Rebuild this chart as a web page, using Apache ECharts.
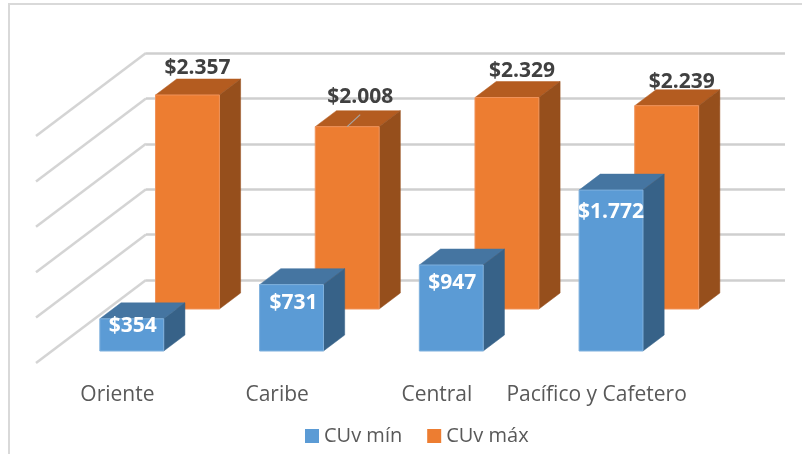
<!DOCTYPE html>
<html>
<head>
<meta charset="utf-8">
<style>
    html, body { margin: 0; padding: 0; background: #fff; }
    #main { width: 802px; height: 454px; }
</style>
<script src="https://cdn.jsdelivr.net/npm/echarts@6/dist/echarts.min.js"></script>
</head>
<body>
<div id="main"></div>
<script>
var categories = ['Oriente', 'Caribe', 'Central', 'Pacífico y Cafetero'];
var cuvMin = [354, 731, 947, 1772];
var cuvMax = [2357, 2008, 2329, 2239];
var gridTicks = [0, 500, 1000, 1500, 2000, 2500];

// desplazamiento de cada etiqueta respecto a la cara frontal de la barra
var minLabelOffsets = [[1, 7], [2, 18], [1, 18], [0, 22]];
var maxLabelOffsets = [[10, -27], [13, -30], [15, -27], [15, -24]];

// perspectiva falsa: cuanto se corre en x por cada px de profundidad
var slant = 110 / 83;
var wallDepth = 83;
var barDepth = 16;
var fontName = '"Open Sans", sans-serif';

function formatMoney(v) {
    return '$' + String(v).replace(/\B(?=(\d{3})+$)/g, '.');
}

function makeBars(name, values, frontDepth, colors, labelColor, offsets, z) {
    return {
        name: name,
        type: 'custom',
        z: z,
        clip: false,
        itemStyle: { color: colors.front },
        encode: { x: 0, y: 1 },
        data: values.map(function (v, i) { return [i, v]; }),
        renderItem: function (params, api) {
            var idx = api.value(0);
            var val = api.value(1);
            var w = api.size([1, 0])[0] * 0.4;
            var dx = frontDepth * slant;
            var base = api.coord([idx, 0]);
            var top = api.coord([idx, val]);
            var x0 = base[0] - w / 2 - dx;
            var x1 = x0 + w;
            var yb = base[1] + frontDepth;
            var yt = top[1] + frontDepth;
            var sx = barDepth * slant;
            var off = offsets[idx];
            var children = [
                {
                    type: 'polygon',
                    shape: { points: [[x0, yt], [x0 + sx, yt - barDepth], [x1 + sx, yt - barDepth], [x1, yt]] },
                    style: { fill: colors.top, stroke: colors.top, lineWidth: 0.5 }
                },
                {
                    type: 'polygon',
                    shape: { points: [[x1, yt], [x1 + sx, yt - barDepth], [x1 + sx, yb - barDepth], [x1, yb]] },
                    style: { fill: colors.side, stroke: colors.side, lineWidth: 0.5 }
                },
                {
                    type: 'rect',
                    shape: { x: x0, y: yt, width: w, height: yb - yt },
                    style: { fill: api.visual('color'), stroke: colors.edge, lineWidth: 1 }
                }
            ];
            // la linea guia que Excel deja en el rotulo de Caribe
            if (off[1] < -29) {
                children.push({
                    type: 'line',
                    shape: { x1: x0 + w / 2, y1: yt, x2: x0 + w / 2 + 13, y2: yt - 12 },
                    style: { stroke: '#a6a6a6', lineWidth: 1.2 }
                });
            }
            children.push({
                type: 'text',
                style: {
                    text: formatMoney(val),
                    x: x0 + w / 2 + off[0],
                    y: yt + off[1],
                    align: 'center',
                    verticalAlign: 'middle',
                    fill: labelColor,
                    font: 'bold 21px ' + fontName
                }
            });
            return { type: 'group', children: children };
        }
    };
}

var chart = echarts.init(document.getElementById('main'));

var option = {
    animation: false,
    backgroundColor: '#fff',
    grid: { left: 146, right: 17, top: 53, bottom: 174 },
    legend: {
        data: ['CUv mín', 'CUv máx'],
        left: 300,
        top: 421,
        icon: 'rect',
        itemWidth: 14,
        itemHeight: 14,
        itemGap: 25,
        textStyle: { fontFamily: fontName, fontSize: 20, color: '#595959' }
    },
    xAxis: {
        type: 'category',
        data: categories,
        axisLine: { show: false },
        axisTick: { show: false },
        axisLabel: {
            interval: 0,
            margin: 105,
            padding: [0, 217, 0, 0],
            fontFamily: fontName,
            fontSize: 21,
            color: '#595959'
        }
    },
    yAxis: {
        type: 'value',
        min: 0,
        max: 2500,
        interval: 500,
        axisLabel: { show: false },
        axisLine: { show: false },
        axisTick: { show: false },
        splitLine: { lineStyle: { color: '#cfcfcf', width: 2.5 } }
    },
    series: [
        {
            // pared lateral: prolonga cada linea de la cuadricula hacia el frente
            name: 'pared',
            type: 'custom',
            z: 1,
            clip: false,
            silent: true,
            encode: { y: 0 },
            data: gridTicks,
            renderItem: function (params, api) {
                var x = params.coordSys.x;
                var y = api.coord([0, api.value(0)])[1];
                return {
                    type: 'line',
                    shape: { x1: x, y1: y, x2: x - wallDepth * slant, y2: y + wallDepth },
                    style: { stroke: '#d4d4d4', lineWidth: 2.5 }
                };
            }
        },
        makeBars('CUv mín', cuvMin, 71, { front: '#5B9BD5', top: '#4575A1', side: '#376288', edge: '#7FB0DD' }, '#fff', minLabelOffsets, 4),
        makeBars('CUv máx', cuvMax, 29, { front: '#ED7D31', top: '#B45C20', side: '#964F1C', edge: '#F0935A' }, '#404040', maxLabelOffsets, 3)
    ],
    graphic: [
        {
            type: 'polyline',
            silent: true,
            shape: { points: [[9, 454], [9, 4], [802, 4]] },
            style: { fill: 'none', stroke: '#d9d9d9', lineWidth: 2 }
        }
    ]
};

chart.setOption(option);
</script>
</body>
</html>
